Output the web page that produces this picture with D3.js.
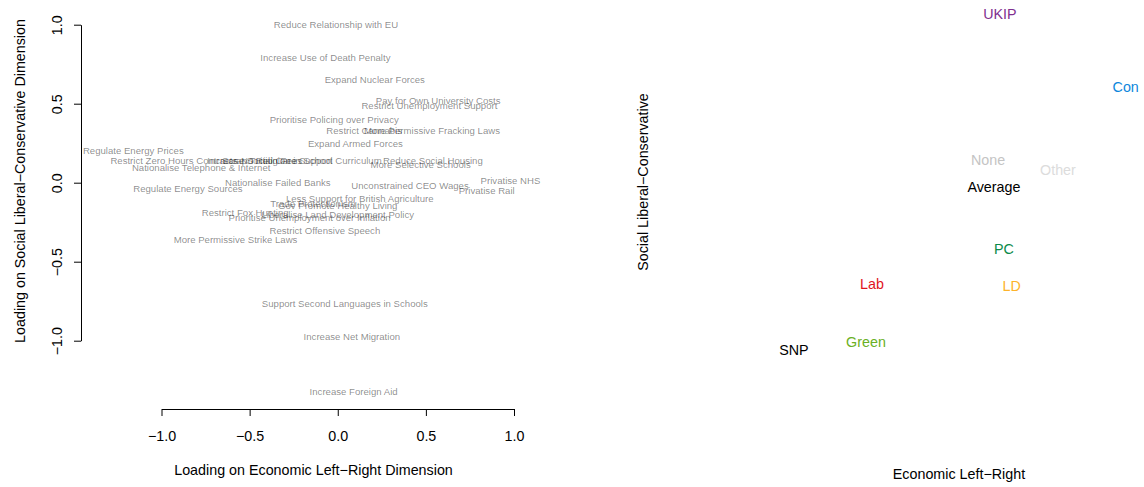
<!DOCTYPE html>
<html><head><meta charset="utf-8">
<script src="https://cdn.jsdelivr.net/npm/d3@7"></script>
<style>
body{margin:0;background:#fff}
text{font-family:"Liberation Sans",Arial,Helvetica,sans-serif}
</style>
</head><body>
<svg id="chart" width="1144" height="487"></svg>
<script>
// ---- data: issue loadings (left panel) ----
const issueLabels = [
  "Reduce Relationship with EU","Increase Use of Death Penalty","Expand Nuclear Forces",
  "Pay for Own University Costs","Restrict Unemployment Support","Prioritise Policing over Privacy",
  "Restrict Cannabis","More Permissive Fracking Laws","Expand Armed Forces",
  "Regulate Energy Prices","Restrict Zero Hours Contracts","Nationalise Telephone & Internet",
  "Increase Social Care Support","Scrap Tuition Fees","No Religion in School Curriculum",
  "Reduce Social Housing","More Selective Schools","Privatise NHS","Privatise Rail",
  "Unconstrained CEO Wages","Nationalise Failed Banks","Regulate Energy Sources",
  "Less Support for British Agriculture","Trade Protectionism","Gov Promote Healthy Living",
  "Restrict Fox Hunting","Liberalise Land Development Policy","Prioritise Unemployment over Inflation",
  "Restrict Offensive Speech","More Permissive Strike Laws","Support Second Languages in Schools",
  "Increase Net Migration","Increase Foreign Aid"
];
const issueEcon = [
  -0.01,-0.07,0.21,
  0.57,0.52,-0.02,
  0.15,0.535,0.10,
  -1.16,-0.93,-0.775,
  -0.385,-0.43,-0.15,
  0.54,0.47,0.98,0.845,
  0.41,-0.34,-0.85,
  0.125,-0.14,0.0,
  -0.525,0.0,-0.16,
  -0.073,-0.58,0.04,
  0.08,0.09
];
const issueSocial = [
  1.00,0.79,0.65,
  0.52,0.49,0.40,
  0.327,0.327,0.25,
  0.205,0.137,0.098,
  0.137,0.137,0.137,
  0.137,0.112,0.01,-0.05,
  -0.02,0.0,-0.04,
  -0.103,-0.13,-0.148,
  -0.19,-0.205,-0.224,
  -0.306,-0.363,-0.765,
  -0.975,-1.32
];
const axisTicks = [-1, -0.5, 0, 0.5, 1];

// ---- data: party mean positions (right panel) ----
const partyNames  = ["UKIP","Con","None","Other","Average","PC","LD","Lab","Green","SNP"];
const partyEcon   = [0.395,0.98,0.34,0.665,0.367,0.414,0.45,-0.20,-0.228,-0.563];
const partySocial = [0.93,0.575,0.22,0.17,0.085,-0.22,-0.40,-0.39,-0.67,-0.71];

// ---- styles ----
const partyColour = {UKIP:"#7F2F8F",Con:"#0C87DC",None:"#C4C4C4",Other:"#DCDCDC",Average:"#000000",
  PC:"#0A8A4A",LD:"#FDB32B",Lab:"#E0141E",Green:"#6AB023",SNP:"#000000"};
const FS = 14.3, FS_SMALL = 9.6;

const svg = d3.select("#chart");

// ================= LEFT PANEL =================
const xL = d3.scaleLinear().domain([-1,1]).range([161.5,514]);
const yL = d3.scaleLinear().domain([-1,1]).range([340.7,24.7]);
const xAxisY = 409, yAxisX = 81;

const gx = svg.append("g").attr("transform",`translate(0,${xAxisY})`)
  .call(d3.axisBottom(xL).tickValues(axisTicks).tickFormat(d3.format(".1f"))
        .tickSize(7).tickSizeOuter(0).tickPadding(15));
gx.selectAll("text").attr("font-size",FS).attr("font-family","Liberation Sans, Arial, sans-serif").attr("fill","#000");
gx.selectAll("line,path").attr("stroke","#000");

const gy = svg.append("g").attr("transform",`translate(${yAxisX},0)`)
  .call(d3.axisLeft(yL).tickValues(axisTicks).tickFormat(d3.format(".1f"))
        .tickSize(7).tickSizeOuter(0));
gy.selectAll("line,path").attr("stroke","#000");
gy.selectAll("text")
  .attr("font-size",FS).attr("font-family","Liberation Sans, Arial, sans-serif").attr("fill","#000")
  .attr("text-anchor","middle").attr("x",0).attr("y",-19).attr("dy",null)
  .attr("transform","rotate(-90)");

svg.append("g").selectAll("text")
  .data(issueLabels.map((l,i)=>({l, x:issueEcon[i], y:issueSocial[i]})))
  .join("text")
  .attr("x",d=>xL(d.x)).attr("y",d=>yL(d.y)).attr("dy","0.35em")
  .attr("text-anchor","middle").attr("font-size",FS_SMALL)
  .attr("fill","#000").attr("fill-opacity",0.47)
  .text(d=>d.l);

svg.append("text").attr("x",313.5).attr("y",475).attr("text-anchor","middle")
  .attr("font-size",FS).text("Loading on Economic Left\u2212Right Dimension");
svg.append("text").attr("transform","translate(25,181) rotate(-90)").attr("text-anchor","middle")
  .attr("font-size",FS).text("Loading on Social Liberal\u2212Conservative Dimension");

// ================= RIGHT PANEL =================
const xR = d3.scaleLinear().domain([-1,1]).range([700,1130]);
const yR = d3.scaleLinear().domain([-1,1]).range([409,0]);

svg.append("g").selectAll("text")
  .data(partyNames.map((n,i)=>({n, x:partyEcon[i], y:partySocial[i]})))
  .join("text")
  .attr("x",d=>xR(d.x)).attr("y",d=>yR(d.y)).attr("dy","0.35em")
  .attr("text-anchor","middle").attr("font-size",FS)
  .attr("fill",d=>partyColour[d.n])
  .text(d=>d.n);

svg.append("text").attr("x",959).attr("y",479).attr("text-anchor","middle")
  .attr("font-size",FS).text("Economic Left\u2212Right");
svg.append("text").attr("transform","translate(648,182) rotate(-90)").attr("text-anchor","middle")
  .attr("font-size",FS).text("Social Liberal\u2212Conservative");
</script>
</body></html>
